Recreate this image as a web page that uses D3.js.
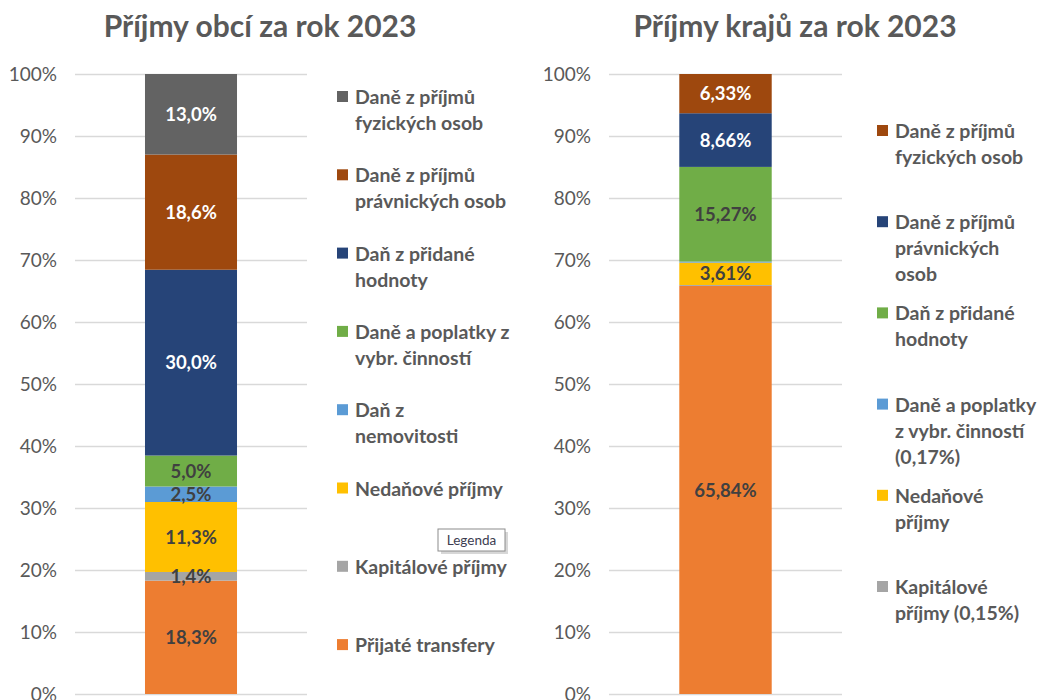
<!DOCTYPE html>
<html>
<head>
<meta charset="utf-8">
<script src="https://cdn.jsdelivr.net/npm/d3@7"></script>
<style>
  body { margin: 0; background: #fff; }
  svg text { font-family: Lato, "Open Sans", sans-serif; }
</style>
</head>
<body>
<svg id="chart" width="1042" height="700"></svg>
<script>
// categories, bottom of stack first
const obceCategories = ["Přijaté transfery", "Kapitálové příjmy", "Nedaňové příjmy", "Daň z nemovitosti",
    "Daně a poplatky z vybr. činností", "Daň z přidané hodnoty", "Daně z příjmů právnických osob", "Daně z příjmů fyzických osob"];
const obceValues = [18.3, 1.4, 11.3, 2.5, 5.0, 30.0, 18.6, 13.0];
const obceColors = ["#ED7D31", "#A5A5A5", "#FFC000", "#5B9BD5", "#70AD47", "#264478", "#9E480E", "#636363"];
const obceLabelColors = ["#404040", "#404040", "#404040", "#404040", "#404040", "#fff", "#fff", "#fff"];
// legend, top to bottom (line breaks as in the picture)
const obceLegend = [["Daně z příjmů", "fyzických osob"], ["Daně z příjmů", "právnických osob"], ["Daň z přidané", "hodnoty"],
    ["Daně a poplatky z", "vybr. činností"], ["Daň z", "nemovitosti"], ["Nedaňové příjmy"], ["Kapitálové příjmy"], ["Přijaté transfery"]];

const krajeCategories = ["Přijaté transfery", "Kapitálové příjmy", "Nedaňové příjmy", "Daně a poplatky z vybr. činností",
    "Daň z přidané hodnoty", "Daně z příjmů právnických osob", "Daně z příjmů fyzických osob"];
const krajeValues = [65.84, 0.15, 3.61, 0.17, 15.27, 8.66, 6.33];
const krajeColors = ["#ED7D31", "#A5A5A5", "#FFC000", "#5B9BD5", "#70AD47", "#264478", "#9E480E"];
const krajeLabelColors = ["#404040", "#404040", "#404040", "#404040", "#404040", "#fff", "#fff"];
const krajeLegend = [["Daně z příjmů", "fyzických osob"], ["Daně z příjmů", "právnických", "osob"], ["Daň z přidané", "hodnoty"],
    ["Daně a poplatky", "z vybr. činností", "(0,17%)"], ["Nedaňové", "příjmy"], ["Kapitálové", "příjmy (0,15%)"]];

const svg = d3.select("#chart");
const czPct = (digits) => (v) => d3.format("." + digits + "f")(v).replace(".", ",") + "%";

function drawChart(opt) {
    let g = svg.append("g");
    let yScale = d3.scaleLinear().domain([0, 1]).range([694, 74]);
    let xScale = d3.scaleBand().domain(["2023"]).range([opt.gridX0, opt.gridX1]).padding(0.432);

    g.append("text")
        .attr("x", opt.titleX).attr("y", 37)
        .attr("text-anchor", "middle")
        .style("font-size", "30px").style("font-weight", "bold").style("fill", "#595959")
        .text(opt.title);

    let axis = d3.axisLeft(yScale)
        .ticks(10)
        .tickFormat(d3.format(".0%"))
        .tickSize(-(opt.gridX1 - opt.gridX0))
        .tickPadding(18);

    let axisG = g.append("g")
        .attr("transform", "translate(" + opt.gridX0 + ",0)")
        .call(axis);
    axisG.select(".domain").remove();
    axisG.selectAll("line").attr("stroke", "#D9D9D9").attr("stroke-width", 1.3);
    axisG.selectAll("text").style("font-size", "19px").style("fill", "#595959").style("font-family", "Lato, sans-serif");

    let row = {};
    opt.categories.forEach((c, i) => row[c] = opt.values[i]);
    let series = d3.stack().keys(opt.categories).offset(d3.stackOffsetExpand)([row]);

    g.selectAll("rect.seg").data(series).enter().append("rect")
        .attr("class", "seg")
        .attr("x", xScale("2023"))
        .attr("width", xScale.bandwidth())
        .attr("y", d => yScale(d[0][1]))
        .attr("height", d => yScale(d[0][0]) - yScale(d[0][1]))
        .attr("fill", (d, i) => opt.colors[i]);

    g.selectAll("text.lbl").data(series.filter((d, i) => opt.values[i] >= 1)).enter().append("text")
        .attr("class", "lbl")
        .attr("x", xScale("2023") + xScale.bandwidth() / 2)
        .attr("y", d => yScale((d[0][0] + d[0][1]) / 2))
        .attr("dy", "0.36em")
        .attr("text-anchor", "middle")
        .style("font-size", "18.5px").style("font-weight", "bold")
        .style("fill", d => opt.labelColors[opt.categories.indexOf(d.key)])
        .text(d => opt.fmt(opt.values[opt.categories.indexOf(d.key)]));

    // legend, colours follow the stack from the top
    let legendColors = opt.colors.slice().reverse();
    let items = g.selectAll("g.leg").data(opt.legend).enter().append("g")
        .attr("class", "leg")
        .attr("transform", (d, i) => "translate(" + opt.legX + "," + (opt.legY0 + i * opt.legStep) + ")");
    items.append("rect")
        .attr("x", 0).attr("y", -6).attr("width", 11).attr("height", 11)
        .attr("fill", (d, i) => legendColors[i]);
    items.each(function(lines) {
        let t = d3.select(this).append("text")
            .attr("x", 18).attr("y", 0)
            .style("font-size", "19.5px").style("font-weight", "bold").style("fill", "#595959");
        lines.forEach((l, j) => {
            t.append("tspan").attr("x", 18).attr("y", j * 26).attr("dy", "0.36em").text(l);
        });
    });
}

drawChart({
    title: "Příjmy obcí za rok 2023", titleX: 260,
    gridX0: 75, gridX1: 307,
    categories: obceCategories, values: obceValues, colors: obceColors, labelColors: obceLabelColors,
    fmt: czPct(1),
    legend: obceLegend, legX: 337, legY0: 97, legStep: 78.3
});

drawChart({
    title: "Příjmy krajů za rok 2023", titleX: 795,
    gridX0: 609, gridX1: 842,
    categories: krajeCategories, values: krajeValues, colors: krajeColors, labelColors: krajeLabelColors,
    fmt: czPct(2),
    legend: krajeLegend, legX: 877, legY0: 131, legStep: 91.2
});

// the "Legenda" tooltip that sits in the screenshot
let tip = svg.append("g").attr("transform", "translate(438,529)");
tip.append("rect").attr("x", 3).attr("y", 3).attr("width", 67).attr("height", 22).attr("fill", "#bdbdbd").attr("opacity", 0.6);
tip.append("rect").attr("x", 0).attr("y", 0).attr("width", 67).attr("height", 22)
    .attr("fill", "#fff").attr("stroke", "#8c8c8c").attr("stroke-width", 1);
tip.append("text").attr("x", 33.5).attr("y", 11).attr("dy", "0.35em").attr("text-anchor", "middle")
    .style("font-size", "13.5px").style("fill", "#3c3c50").text("Legenda");
</script>
</body>
</html>
